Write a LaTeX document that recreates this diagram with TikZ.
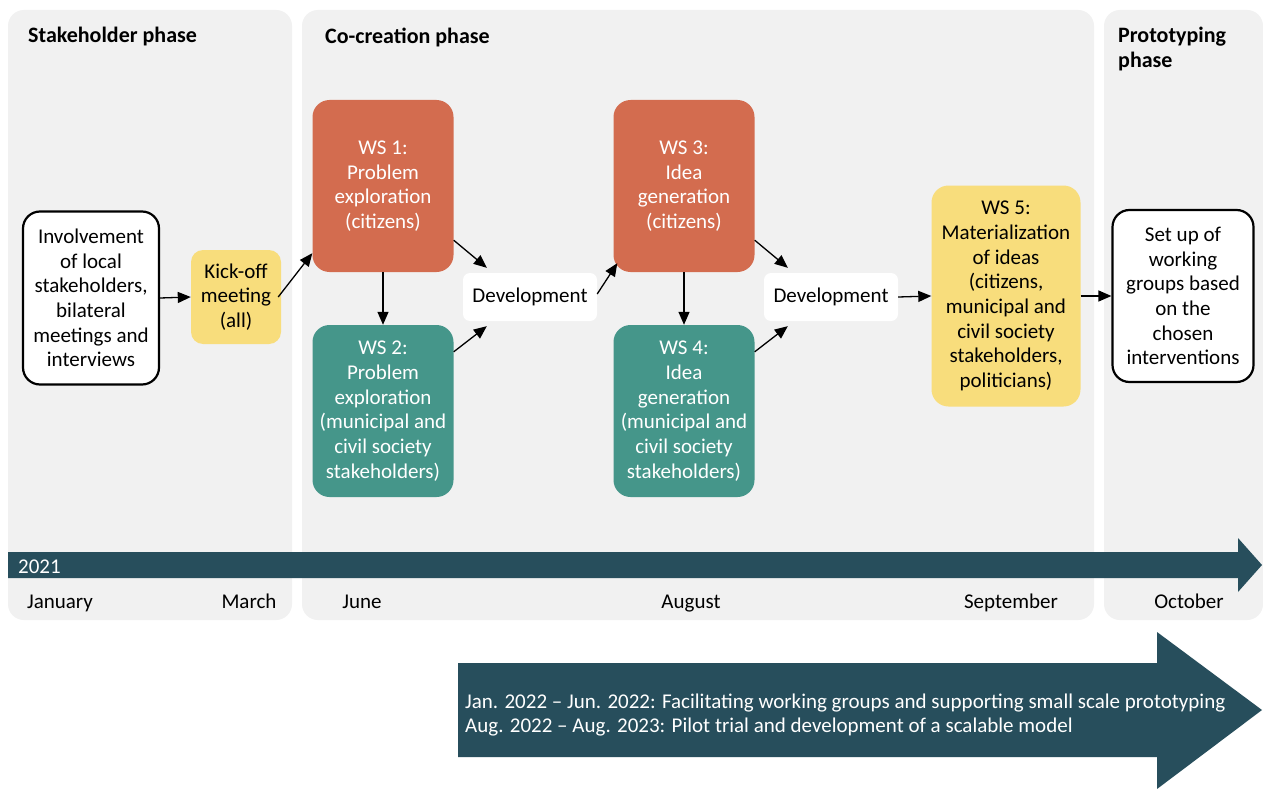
\documentclass[tikz,border=0pt]{standalone}
\usepackage{fontspec}
\setmainfont{Carlito}
\usetikzlibrary{arrows.meta}
\definecolor{panel}{HTML}{F1F1F1}
\definecolor{wsorange}{HTML}{D36C4F}
\definecolor{wsteal}{HTML}{45968A}
\definecolor{wsyellow}{HTML}{F8DD7C}
\definecolor{navy}{HTML}{274E5C}
\begin{document}
\begin{tikzpicture}[x=1pt,y=-1pt,
  font=\fontsize{21}{24.7}\selectfont,
  phase/.style={fill=panel, rounded corners=16pt},
  title/.style={font=\fontsize{22}{24.7}\selectfont\bfseries, anchor=west, inner sep=0pt},
  box/.style={align=center, inner sep=0pt, rounded corners=17pt},
  wsbox/.style={box, minimum width=141pt, minimum height=172pt, text=white},
  outlined/.style={box, draw=black, line width=2.2pt, fill=white},
  devbox/.style={box, fill=white, rounded corners=7pt, minimum width=134pt, minimum height=48pt},
  arr/.style={line width=1.3pt, -{Triangle[length=13pt,width=11pt]}},
  month/.style={inner sep=0pt, anchor=base}
]
\useasboundingbox (0,0) rectangle (1263,789);
\fill[white] (0,0) rectangle (1263,789);
% phases
\fill[phase] (8,10) rectangle (292,620);
\fill[phase] (302,10) rectangle (1094,620);
\fill[phase] (1104,10) rectangle (1263,620);
\node[title] (t1) at (28,37) {Stakeholder phase};
\node[title] (t2) at (325,37) {Co-creation phase};
\node[title, align=left] (t3) at (1118,49) {Prototyping\\phase};
% nodes
\node[outlined, minimum width=136pt, minimum height=173pt] (inv) at (91,298)
  {Involvement\\of local\\stakeholders,\\bilateral\\meetings and\\interviews};
\node[box, fill=wsyellow, minimum width=90pt, minimum height=94pt, rounded corners=12pt] (kick) at (236,297)
  {Kick-off\\meeting\\(all)};
\node[wsbox, fill=wsorange] (ws1) at (383,186) {WS 1:\\Problem\\exploration\\(citizens)};
\node[wsbox, fill=wsteal] (ws2) at (383,411) {WS 2:\\Problem\\exploration\\(municipal and\\civil society\\stakeholders)};
\node[devbox] (dev1) at (530,297) {Development};
\node[wsbox, fill=wsorange] (ws3) at (684,186) {WS 3:\\Idea\\generation\\(citizens)};
\node[wsbox, fill=wsteal] (ws4) at (684,411) {WS 4:\\Idea\\generation\\(municipal and\\civil society\\stakeholders)};
\node[devbox] (dev2) at (831,297) {Development};
\node[box, fill=wsyellow, minimum width=149pt, minimum height=221pt] (ws5) at (1006,296)
  {WS 5:\\Materialization\\of ideas\\(citizens,\\municipal and\\civil society\\stakeholders,\\politicians)};
\node[outlined, minimum width=141pt, minimum height=172pt] (setup) at (1183,296)
  {Set up of\\working\\groups based\\on the\\chosen\\interventions};
% connectors
\draw[arr] (inv.east) -- (kick.west);
\draw[arr] ([xshift=-3pt]kick.east) -- ([yshift=19pt]ws1.south west);
\draw[arr] (ws1.south) -- (ws2.north);
\draw[arr] ([yshift=32pt]ws1.south east) -- ([xshift=24pt,yshift=5pt]dev1.north west);
\draw[arr] ([yshift=-27pt]ws2.north east) -- ([xshift=24pt,yshift=-5pt]dev1.south west);
\draw[arr] ([yshift=3pt]dev1.east) -- ([xshift=4pt,yshift=9pt]ws3.south west);
\draw[arr] (ws3.south) -- (ws4.north);
\draw[arr] ([yshift=32pt]ws3.south east) -- ([xshift=24pt,yshift=5pt]dev2.north west);
\draw[arr] ([yshift=-27pt]ws4.north east) -- ([xshift=24pt,yshift=-5pt]dev2.south west);
\draw[arr] (dev2.east) -- (ws5.west);
\draw[arr] (ws5.east) -- (setup.west);
% timeline
\fill[navy] (8,552) -- (1238,552) -- (1238,538) -- (1262,565) -- (1238,592) -- (1238,578) -- (8,578) -- cycle;
\node[month, text=white, anchor=base west] (yr) at (18,573) {2021};
\node[month] (m1) at (60,608) {January};
\node[month] (m2) at (249,608) {March};
\node[month] (m3) at (362,608) {June};
\node[month] (m4) at (691,608) {August};
\node[month] (m5) at (1011,608) {September};
\node[month] (m6) at (1189,608) {October};
% future arrow
\fill[navy] (458,663) -- (1157,663) -- (1157,632) -- (1262,710) -- (1157,789) -- (1157,757) -- (458,757) -- cycle;
\node[inner sep=0pt, text=white, anchor=west, align=left] (fut) at (465,715)
  {Jan. 2022 -- Jun. 2022: Facilitating working groups and supporting small scale prototyping\\
   Aug. 2022 -- Aug. 2023: Pilot trial and development of a scalable model};
\end{tikzpicture}
\end{document}
